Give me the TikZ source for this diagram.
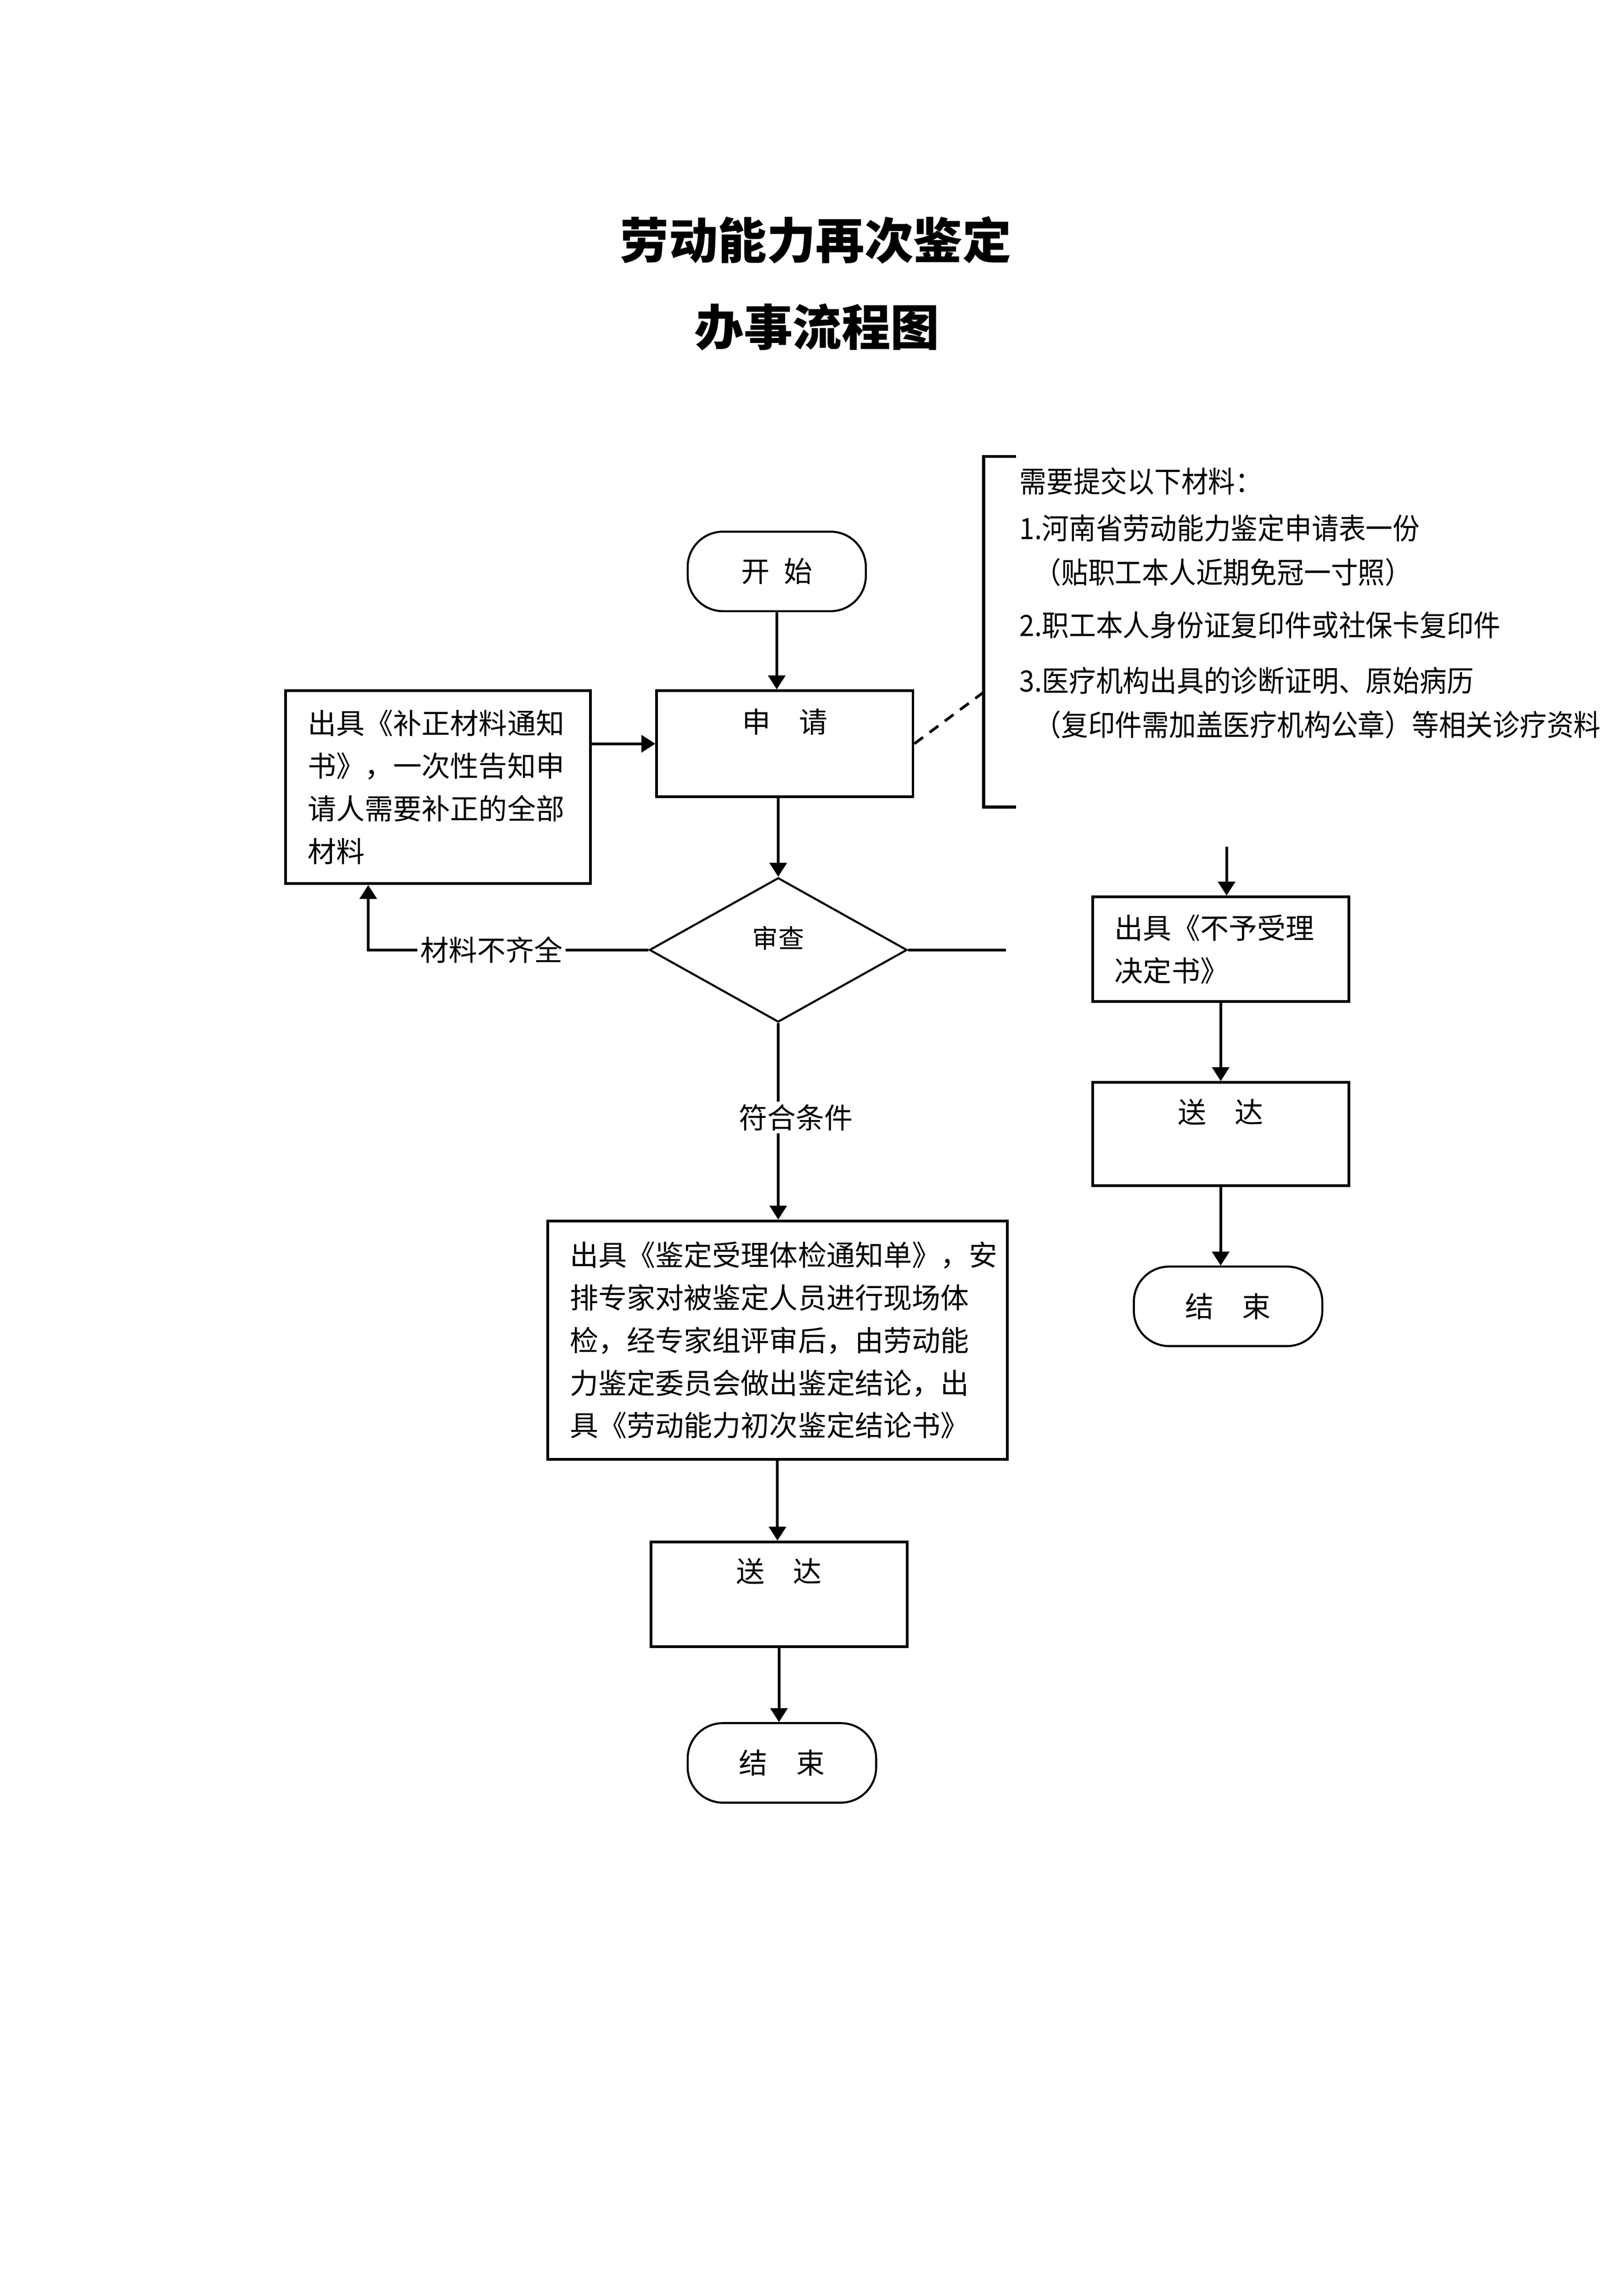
\documentclass[tikz,border=0pt]{standalone}
\usepackage{fontspec}
\newfontfamily\cjk{Noto Sans CJK SC}
\newfontfamily\cjknarrow[FakeStretch=0.92]{Noto Sans CJK SC}
\usetikzlibrary{arrows.meta,shapes.geometric}
\newdimen\pxunit \pxunit=0.19056mm
\begin{document}
\begin{tikzpicture}[x=0.19056mm,y=-0.19056mm,
  every node/.style={font=\cjk\fontsize{10.5}{15.7}\selectfont},
  title/.style={font=\cjk\bfseries\fontsize{18}{22}\selectfont, inner sep=0pt},
  box/.style={draw, rectangle, line width=1pt, inner sep=0pt},
  term/.style={draw, rectangle, line width=0.75pt, inner sep=0pt, rounded corners=24*\pxunit},
  decision/.style={draw, diamond, line width=0.75pt, inner sep=0pt},
  ln/.style={line width=1pt},
  arr/.style={line width=1pt, -{Triangle[length=1.8mm,width=2.2mm]}},
  lbl/.style={fill=white, inner sep=1pt}
]
\useasboundingbox (0,0) rectangle (1102,1559);

% titles
\node[title] (t1) at (554,163) {劳动能力再次鉴定};
\node[title] (t2) at (555,222) {办事流程图};

% main chain
\node[term, minimum width=121*\pxunit, minimum height=54*\pxunit] (start) at (527.5,388) {开\hspace{0.5em}始};
\node[box, minimum width=174*\pxunit, minimum height=72*\pxunit,
  label={[anchor=center,yshift=-22*\pxunit]north:申\hspace{1em}请}] (apply) at (533,505) {};
\node[box, minimum width=207*\pxunit, minimum height=131*\pxunit, text width=177*\pxunit, align=left]
  (fix) at (297.5,534.5) {出具《补正材料通知\\书》，一次性告知申\\请人需要补正的全部\\材料};
\node[decision, minimum width=175*\pxunit, minimum height=98*\pxunit,
  label={[anchor=center,yshift=8*\pxunit,font=\cjk\fontsize{9.5}{12}\selectfont]center:审查}] (dia) at (528.5,645) {};
\node[box, minimum width=312*\pxunit, minimum height=162*\pxunit, text width=282*\pxunit, align=left]
  (big) at (528,910) {出具《鉴定受理体检通知单》，安\\排专家对被鉴定人员进行现场体\\检，经专家组评审后，由劳动能\\力鉴定委员会做出鉴定结论，出\\具《劳动能力初次鉴定结论书》};
\node[box, minimum width=174*\pxunit, minimum height=71*\pxunit,
  label={[anchor=center,yshift=-21*\pxunit]north:送\hspace{1em}达}] (send1) at (529,1082.5) {};
\node[term, minimum width=128*\pxunit, minimum height=54*\pxunit] (end1) at (531,1197) {结\hspace{1em}束};

% right chain
\node[box, minimum width=174*\pxunit, minimum height=71*\pxunit, text width=144*\pxunit, align=left]
  (refuse) at (829,644.5) {出具《不予受理\\决定书》};
\node[box, minimum width=174*\pxunit, minimum height=70*\pxunit,
  label={[anchor=center,yshift=-21*\pxunit]north:送\hspace{1em}达}] (send2) at (829,770) {};
\node[term, minimum width=128*\pxunit, minimum height=54*\pxunit] (end2) at (834,887) {结\hspace{1em}束};

% materials note
\node[anchor=north west, align=left, inner sep=0pt, font=\cjknarrow\fontsize{10.8}{16.2}\selectfont] (mat) at (692,317)
 {需要提交以下材料：\\[1.1pt]
  1.河南省劳动能力鉴定申请表一份\\
  \hspace{0.5em}（贴职工本人近期免冠一寸照）\\[3.3pt]
  2.职工本人身份证复印件或社保卡复印件\\[4.3pt]
  3.医疗机构出具的诊断证明、原始病历\\
  \hspace{0.5em}（复印件需加盖医疗机构公章）等相关诊疗资料};
\coordinate (bt) at (668,310);
\coordinate (bb) at (668,548);
\coordinate (bd) at (668,470);
\draw[line width=1.1pt] ([xshift=22*\pxunit]bt) -- (bt) -- (bb) -- ([xshift=22*\pxunit]bb);
\draw[line width=1pt, dash pattern=on 4pt off 3pt] (apply.east) -- (bd);

% connectors
\draw[arr] (start.south) -- (start.south |- apply.north);
\draw[arr] (dia.north |- apply.south) -- (dia.north);
\draw[arr] (fix.east |- apply.west) -- (apply.west);
\coordinate (fb) at ([xshift=57*\pxunit]fix.south west);
\draw[arr] (dia.west) -- node[lbl, pos=0.56] {材料不齐全} (dia.west -| fb) -- (fb);
\coordinate (rx) at (683,645);
\draw[ln] (dia.east) -- (rx);
\draw[arr] (dia.south) -- node[lbl, pos=0.48, xshift=12*\pxunit] {符合条件} (dia.south |- big.north);
\draw[arr] (big.south) -- (big.south |- send1.north);
\draw[arr] (send1.south) -- (send1.south |- end1.north);
\coordinate (rt) at (833,575);
\draw[arr] (rt) -- (rt |- refuse.north);
\draw[arr] (refuse.south) -- (send2.north);
\draw[arr] (send2.south) -- (send2.south |- end2.north);
\end{tikzpicture}
\end{document}
